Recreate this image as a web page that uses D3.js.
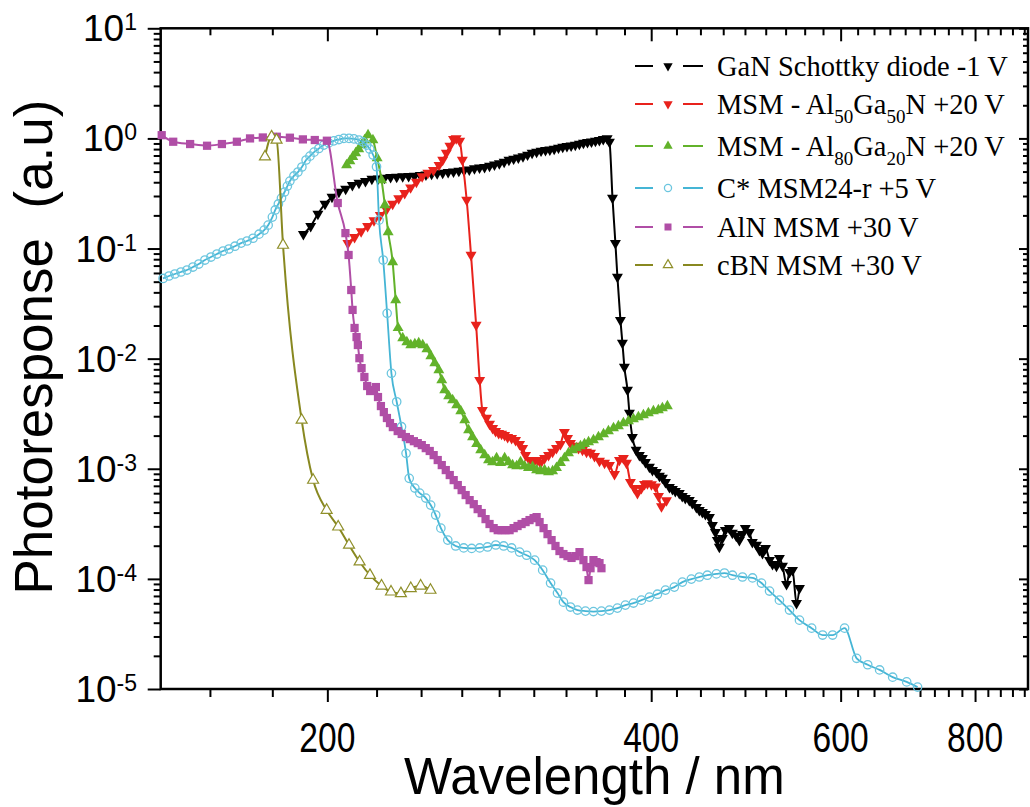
<!DOCTYPE html>
<html>
<head>
<meta charset="utf-8">
<script src="https://cdn.jsdelivr.net/npm/d3@7"></script>
<style>
  body { margin: 0; background: #fff; }
  svg { display: block; }
  text { font-family: "Liberation Sans", Arial, sans-serif; fill: #000; }
  .legend text { font-family: "Liberation Serif", "Times New Roman", serif; }
</style>
</head>
<body>
<svg id="chart" width="1030" height="807"></svg>
<script>
// ---- Spectral photoresponse data (wavelength in nm, response in a.u.) ----

// GaN Schottky diode, -1 V
const ganWl = [190,193,196,199,202,205,208,211,214,217,220,223,226,229,232,235,238,241,244,247,250,253,256,259,262,265,268,271,274,277,280,283,286,289,292,295,298,301,304,307,310,313,316,319,322,325,328,331,334,337,340,343,346,349,352,355,358,361,364,
  365.8,368.2,370.5,372.1,374.5,376.1,377.7,380.2,381.8,384.2,
  387.3,390.0,392.5,395.1,398.5,401.1,404.5,407.1,409.7,412.4,415.9,418.6,421.2,424.8,427.5,430.3,434.0,436.8,440.6,443.4,446.3,449.2,453.1,456.0,458.9,460.8,462.8,465.8,468.8,472.8,475.9,479.9,483.1,486.2,489.3,493.5,496.7,501.1,504.3,507.6,510.9,515.3,518.6,523.0,526.3,529.8,534.4,537.8,541.3,545.9,549.4];
const ganResp = [0.135,0.160,0.206,0.254,0.294,0.326,0.347,0.377,0.394,0.410,0.428,0.432,0.438,0.444,0.448,0.451,0.453,0.457,0.463,0.469,0.475,0.481,0.487,0.493,0.499,0.506,0.512,0.520,0.533,0.542,0.549,0.562,0.578,0.593,0.612,0.637,0.653,0.670,0.686,0.710,0.737,0.755,0.772,0.782,0.792,0.802,0.822,0.838,0.850,0.860,0.871,0.893,0.912,0.924,0.935,0.947,0.962,0.985,1.0,
  0.93,0.288,0.112,0.0551,0.0224,0.0139,0.0084,0.00519,0.00321,0.00194,
  0.00148,0.00133,0.00125,0.00115,0.00104,0.000973,0.000933,0.000859,0.000824,0.000757,0.000682,0.000654,0.000627,0.000601,0.000565,0.000542,0.000519,0.000488,0.000449,0.000421,0.000403,0.000387,0.000364,0.000308,0.000266,0.000225,0.000195,0.000234,0.000277,0.000289,0.000261,0.000245,0.000225,0.000255,0.000289,0.000266,0.000216,0.000203,0.000182,0.000171,0.00019,0.000148,0.000136,0.000131,0.000154,0.000131,0.0000895,0.000115,0.00012,0.0000601,0.0000824];

// MSM Al50Ga50N, +20 V
const al50Wl = [209,212,215,218,221,224,227,230,233,236,239,242,245,248,251,254,256,258,260,262,263.5,265.5,267,269.5,272,275,277.1,278.7,
  281.2,283.0,284.9,286.7,288.6,290.4,292.3,294.2,296.7,299.2,301.8,303.8,305.7,308.3,311.0,313.7,315.7,318.4,321.1,323.9,326.6,329.4,332.2,334.4,336.5,339.4,342.4,345.3,348.3,351.3,354.3,358.1,362.0,365.8,369.8,373.7,376.9,379.4,382.6,385.9,388.4,391.7,394.3,396.8,400.2,403.7,406.3,408.9,413.3];
const al50Resp = [0.112,0.127,0.143,0.160,0.180,0.201,0.226,0.254,0.285,0.319,0.358,0.402,0.451,0.485,0.516,0.573,0.637,0.737,0.853,0.987,1.0,0.947,0.637,0.276,0.0873,0.0202,0.00639,0.00341,
  0.00289,0.00255,0.00234,0.00220,0.00211,0.00207,0.00202,0.00194,0.00190,0.00182,0.00167,0.00154,0.00133,0.00120,0.00115,0.00120,0.00113,0.00125,0.00133,0.00142,0.00154,0.00167,0.00215,0.00190,0.00171,0.00161,0.00154,0.00148,0.00142,0.00139,0.00130,0.00118,0.00113,0.00108,0.000893,0.00120,0.00125,0.00113,0.000757,0.000668,0.000601,0.000668,0.000725,0.000736,0.00072,0.000687,0.000564,0.000454,0.000515];

// MSM Al80Ga20N, +20 V
const al80Wl = [208.4,209.9,211.2,212.5,213.9,215.2,216.6,218.2,220.5,222.5,224.6,226.2,227.8,230.0,231.5,232.7,
  235.0,237.1,239.1,241.2,243.2,245.3,247.5,249.6,251.7,253.9,255.5,257.1,259.3,261.5,263.8,266.1,268.4,270.6,272.9,275.3,277.7,280.1,282.4,284.8,287.3,289.8,292.3,294.8,297.3,299.9,302.4,305.0,307.6,310.3,313.0,315.7,318.4,321.1,323.9,326.6,329.4,332.2,335.1,338.0,340.9,343.8,346.8,349.8,353.5,357.3,361.2,365.0,369.0,372.9,376.9,381.0,385.1,389.2,393.4,397.6,401.9,406.2,409.7,414.1];
const al80Resp = [0.573,0.624,0.68,0.737,0.80,0.87,0.967,1.07,0.967,0.664,0.419,0.248,0.141,0.0754,0.0341,0.019,
  0.0154,0.01416,0.01329,0.01357,0.01386,0.01329,0.01222,0.01056,0.00912,0.00788,0.00639,0.00519,0.00457,0.0042,0.00379,0.00334,0.00277,0.00225,0.00194,0.00168,0.00148,0.00133,0.0012,0.00115,0.00125,0.00113,0.00125,0.00115,0.00108,0.00106,0.00115,0.00106,0.00102,0.00104,0.000973,0.000953,0.000973,0.000933,0.000953,0.00102,0.00113,0.00125,0.00139,0.00148,0.00154,0.00161,0.00168,0.00175,0.00182,0.00194,0.00207,0.0022,0.00234,0.00244,0.0026,0.00271,0.00283,0.00295,0.00307,0.0032,0.00334,0.00341,0.00356,0.00371];

// C* MSM24-r, +5 V
const cstarWl = [140.7,142.5,144.3,146.2,148.1,150.0,151.9,153.9,155.9,157.9,160.0,162.0,164.1,166.3,168.4,170.6,172.8,174.7,176.2,177.8,178.9,180.1,181.3,182.5,183.6,184.6,186.2,187.8,189.4,191.1,192.7,194.4,196.4,198.5,200.6,202.8,205.0,207.2,209.5,211.7,214.0,215.8,217.6,219.0,220.6,222.2,223.4,225.4,227.3,229.4,232.0,234.4,236.7,238.3,241.2,243.7,246.9,249.5,252.2,255.0,258.8,263.2,267.8,272.4,277.1,281.8,286.8,291.7,296.7,301.8,306.4,311.7,317.1,322.5,327.3,331.5,336.5,341.6,347.5,353.5,359.6,365.8,372.1,378.5,385.1,391.7,398.5,405.4,412.4,420.3,427.6,435.9,443.4,451.1,459.9,467.9,476.0,486.3,496.9,506.5,515.3,526.3,537.8,549.4,563.9,577.3,589.8,605.1,620.9,635.8,652.2,670.7,691.1,707.4];
const cstarResp = [0.0535,0.0563,0.0587,0.0612,0.0638,0.0679,0.0723,0.0786,0.0837,0.0891,0.0949,0.099,0.105,0.112,0.117,0.124,0.135,0.147,0.163,0.193,0.224,0.254,0.287,0.326,0.369,0.41,0.456,0.495,0.55,0.637,0.69,0.75,0.81,0.87,0.91,0.95,0.977,1.0,1.0,0.99,0.967,0.93,0.87,0.80,0.707,0.553,0.181,0.0786,0.0258,0.00736,0.00406,0.00241,0.00138,0.000818,0.000668,0.000601,0.000542,0.000468,0.00038,0.000289,0.000225,0.000199,0.000191,0.000189,0.000191,0.000195,0.000203,0.000199,0.000191,0.000175,0.000164,0.000148,0.00012,0.0000916,0.0000743,0.0000615,0.0000555,0.0000521,0.000051,0.0000505,0.000051,0.0000521,0.0000543,0.0000578,0.0000603,0.0000641,0.0000683,0.0000726,0.0000791,0.0000842,0.0000935,0.0000996,0.000104,0.000108,0.000111,0.000113,0.000108,0.000104,0.000102,0.0000916,0.0000775,0.0000641,0.0000521,0.0000422,0.0000357,0.0000309,0.0000309,0.0000357,0.000019,0.0000166,0.0000149,0.0000128,0.0000116,0.0000104];

// AlN MSM, +30 V
const alnWl = [140.3,143.8,149.1,154.6,159.6,164.8,169.5,174.2,179.5,184.6,189.8,194.7,199.8,204.5,207.9,209.3,210.5,211.1,212.0,212.9,213.5,214.2,215.2,216.5,217.8,219.2,220.6,221.9,222.9,224.3,225.7,227.2,228.7,230.1,232.5,234.5,236.6,238.6,240.7,242.7,244.8,246.9,249.0,251.1,253.3,255.5,257.7,259.9,262.1,264.4,266.6,268.9,271.2,273.6,275.9,278.3,280.6,283.0,285.5,288.0,290.4,292.9,295.4,298.0,300.5,303.1,305.7,308.3,311.0,313.0,315.0,317.7,320.4,323.2,325.9,328.7,331.5,334.4,337.3,340.2,343.1,346.0,348.3,349.8,351.3,353.5,355.8,358.1,359.6];
const alnResp = [1.07,0.933,0.889,0.858,0.889,0.933,1.0,1.02,1.036,1.015,0.98,0.967,0.953,0.259,0.138,0.0874,0.042,0.0277,0.019,0.0157,0.0133,0.0101,0.0082,0.00681,0.00564,0.00508,0.00519,0.00552,0.00448,0.00371,0.00327,0.00289,0.0026,0.00239,0.0022,0.00207,0.00194,0.00186,0.00178,0.00171,0.00164,0.00154,0.00145,0.00133,0.0012,0.00108,0.000973,0.000877,0.000789,0.000711,0.00064,0.000577,0.000519,0.000477,0.00043,0.000396,0.000349,0.000315,0.000289,0.000277,0.000277,0.000277,0.000277,0.000289,0.000302,0.000315,0.000328,0.000342,0.000356,0.000364,0.000328,0.000289,0.000255,0.000225,0.000199,0.000179,0.000168,0.000161,0.000155,0.000161,0.000175,0.000148,0.000128,0.0000975,0.000125,0.000148,0.000142,0.000139,0.000125];

// cBN MSM, +30 V
const cbnWl = [175.0,177.5,179.4,181.9,189.3,194.0,199.7,204.7,209.5,214.3,219.1,224.6,229.2,234.1,239.1,244.2,249.4];
const cbnResp = [0.682,1.036,0.967,0.1075,0.00277,0.000789,0.000421,0.000297,0.000203,0.000143,0.000108,0.0000864,0.0000763,0.0000738,0.000082,0.0000864,0.0000791];

// ---- Axis ticks ----
const xTickValues = [200, 400, 600, 800];
const xTickLabels = ["200", "400", "600", "800"];
const yTickExponents = [1, 0, -1, -2, -3, -4, -5];

// ---- Layout ----
const svg = d3.select("#chart");
const plotLeft = 160.7, plotRight = 1028, plotTop = 28.3, plotBottom = 689;

const x = d3.scaleLog().domain([140, 896]).range([plotLeft, plotRight]);
const y = d3.scaleLog().domain([1e-5, 10]).range([plotBottom, plotTop]);

// minor x ticks: 8 per 200 nm interval
const xMinor = d3.range(7, 41).filter(k => k % 9 !== 0).map(k => k * 200 / 9);
// minor y ticks: 2..9 in each decade
const yMinor = [];
for (let e = -5; e < 1; e++) for (let m = 2; m <= 9; m++) yMinor.push(m * Math.pow(10, e));
const yMajor = yTickExponents.map(e => Math.pow(10, e));

function styleAxis(g) {
  g.select(".domain").remove();
  g.selectAll(".tick line").attr("stroke", "#000").attr("stroke-width", 2);
  g.selectAll(".tick text").remove();
}

// bottom (outward)
svg.append("g").attr("transform", `translate(0,${plotBottom})`)
  .call(d3.axisBottom(x).tickValues(xTickValues).tickSize(13).tickSizeOuter(0)).call(styleAxis);
svg.append("g").attr("transform", `translate(0,${plotBottom})`)
  .call(d3.axisBottom(x).tickValues(xMinor).tickSize(8).tickSizeOuter(0)).call(styleAxis);
// top (inward)
svg.append("g").attr("transform", `translate(0,${plotTop})`)
  .call(d3.axisTop(x).tickValues(xTickValues).tickSize(-13).tickSizeOuter(0)).call(styleAxis);
svg.append("g").attr("transform", `translate(0,${plotTop})`)
  .call(d3.axisTop(x).tickValues(xMinor).tickSize(-7).tickSizeOuter(0)).call(styleAxis);
// left (outward)
svg.append("g").attr("transform", `translate(${plotLeft},0)`)
  .call(d3.axisLeft(y).tickValues(yMajor).tickSize(13).tickSizeOuter(0)).call(styleAxis);
svg.append("g").attr("transform", `translate(${plotLeft},0)`)
  .call(d3.axisLeft(y).tickValues(yMinor).tickSize(7).tickSizeOuter(0)).call(styleAxis);
// right (inward)
svg.append("g").attr("transform", `translate(${plotRight},0)`)
  .call(d3.axisRight(y).tickValues(yMajor).tickSize(-9).tickSizeOuter(0)).call(styleAxis);
svg.append("g").attr("transform", `translate(${plotRight},0)`)
  .call(d3.axisRight(y).tickValues(yMinor).tickSize(-5).tickSizeOuter(0)).call(styleAxis);

// frame
svg.append("rect").attr("x", plotLeft).attr("y", plotTop)
  .attr("width", plotRight - plotLeft).attr("height", plotBottom - plotTop)
  .attr("fill", "none").attr("stroke", "#000").attr("stroke-width", 2.5);

// x tick labels (tall, narrow digits)
svg.append("g").selectAll("text").data(xTickValues).join("text")
  .attr("transform", d => `translate(${x(d)},752) scale(0.8,1)`)
  .attr("text-anchor", "middle").attr("font-size", 42)
  .text((d, i) => xTickLabels[i]);

// y tick labels 10^n
const yl = svg.append("g").selectAll("text").data(yTickExponents).join("text")
  .attr("x", 137).attr("y", d => y(Math.pow(10, d)) + 13)
  .attr("text-anchor", "end").attr("font-size", 37);
yl.append("tspan").text("10");
yl.append("tspan").attr("font-size", 23).attr("dy", -11).text(d => String(d));

// axis titles
svg.append("text").attr("x", (plotLeft + plotRight) / 2).attr("y", 794)
  .attr("text-anchor", "middle").attr("font-size", 51).text("Wavelength / nm");
svg.append("text").attr("transform", "translate(52,347) rotate(-90)")
  .attr("text-anchor", "middle").attr("font-size", 53)
  .style("white-space", "pre").text("Photoresponse  (a.u)");

// ---- Series ----
const series = [
  { wl: ganWl, resp: ganResp, line: "#000000", mark: "down", fill: "#000000", stroke: "#000000", lw: 2 },
  { wl: al50Wl, resp: al50Resp, line: "#e8221c", mark: "down", fill: "#e8221c", stroke: "#e8221c", lw: 2 },
  { wl: al80Wl, resp: al80Resp, line: "#62b22a", mark: "up", fill: "#62b22a", stroke: "#62b22a", lw: 2 },
  { wl: cstarWl, resp: cstarResp, line: "#45b5d5", mark: "circle", fill: "none", stroke: "#6cc6df", lw: 1.8 },
  { wl: alnWl, resp: alnResp, line: "#b04ea6", mark: "square", fill: "#b04ea6", stroke: "#b04ea6", lw: 2 },
  { wl: cbnWl, resp: cbnResp, line: "#888820", mark: "openUp", fill: "#ffffff", stroke: "#8f8f2a", lw: 2 }
];

const legendLabels = [
  ["GaN Schottky diode -1 V"],
  ["MSM - Al", {sub: "50"}, "Ga", {sub: "50"}, "N +20 V"],
  ["MSM - Al", {sub: "80"}, "Ga", {sub: "20"}, "N +20 V"],
  ["C* MSM24-r +5 V"],
  ["AlN MSM +30 V"],
  ["cBN MSM +30 V"]
];

function drawMarker(g, kind, fill, stroke, scale) {
  const s = scale || 1;
  if (kind === "circle") {
    g.append("circle").attr("r", 4.2 * s).attr("fill", fill).attr("stroke", stroke).attr("stroke-width", 1.3);
  } else if (kind === "square") {
    g.append("path").attr("d", d3.symbol(d3.symbolSquare, 68 * s * s)()).attr("fill", fill);
  } else if (kind === "down") {
    g.append("path").attr("d", d3.symbol(d3.symbolTriangle, 52 * s * s)()).attr("transform", "rotate(180)").attr("fill", fill);
  } else if (kind === "up") {
    g.append("path").attr("d", d3.symbol(d3.symbolTriangle, 52 * s * s)()).attr("fill", fill);
  } else if (kind === "openUp") {
    g.append("path").attr("d", d3.symbol(d3.symbolTriangle, 52 * s * s)()).attr("fill", fill).attr("stroke", stroke).attr("stroke-width", 1.2);
  }
}

const plot = svg.append("g");
series.forEach(s => {
  const pts = s.wl.map((w, i) => [w, s.resp[i]]);
  plot.append("path").datum(pts)
    .attr("fill", "none").attr("stroke", s.line).attr("stroke-width", s.lw)
    .attr("stroke-linejoin", "round")
    .attr("d", d3.line().x(d => x(d[0])).y(d => y(d[1])).curve(d3.curveMonotoneX));
  const mg = plot.append("g");
  pts.forEach(p => {
    const g = mg.append("g").attr("transform", `translate(${x(p[0])},${y(p[1])})`);
    drawMarker(g, s.mark, s.fill, s.stroke, 1);
  });
});

// ---- Legend ----
const legendRows = [66, 104, 146, 188, 227, 265];
const lg = svg.append("g").attr("class", "legend");
series.forEach((s, i) => {
  const cy = legendRows[i];
  lg.append("line").attr("x1", 635).attr("x2", 653).attr("y1", cy).attr("y2", cy)
    .attr("stroke", s.line).attr("stroke-width", 2);
  lg.append("line").attr("x1", 683).attr("x2", 703).attr("y1", cy).attr("y2", cy)
    .attr("stroke", s.line).attr("stroke-width", 2);
  const mg = lg.append("g").attr("transform", `translate(668,${cy})`);
  drawMarker(mg, s.mark, s.fill, s.stroke, 0.85);
  const t = lg.append("text").attr("x", 717).attr("y", cy + 10).attr("font-size", 28.5);
  let shifted = false;
  legendLabels[i].forEach(part => {
    if (typeof part === "string") {
      t.append("tspan").attr("dy", shifted ? -9 : 0).text(part);
      shifted = false;
    } else {
      t.append("tspan").attr("font-size", 19).attr("dy", shifted ? 0 : 9).text(part.sub);
      shifted = true;
    }
  });
});
</script>
</body>
</html>
